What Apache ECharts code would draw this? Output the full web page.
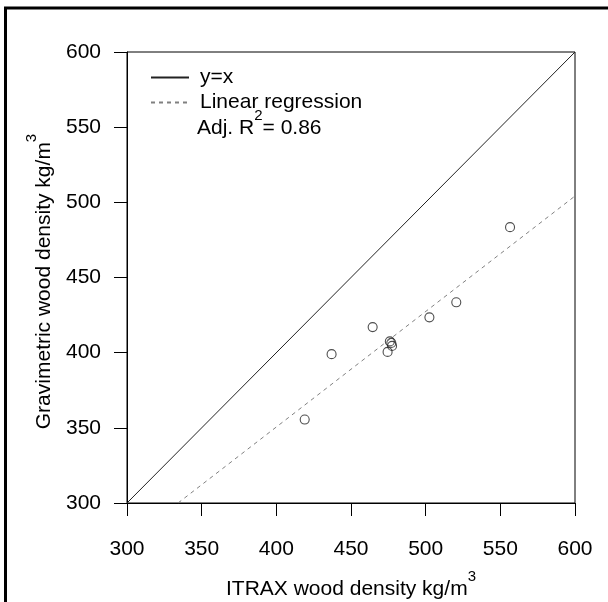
<!DOCTYPE html>
<html>
<head>
<meta charset="utf-8">
<script src="https://cdn.jsdelivr.net/npm/echarts@6/dist/echarts.min.js"></script>
<style>
  html, body { margin: 0; padding: 0; background: #fff; }
  #chart { width: 608px; height: 602px; }
</style>
</head>
<body>
<div id="chart"></div>
<script>
// Axis ticks (kg/m3)
const axisTicks = [300, 350, 400, 450, 500, 550, 600];

// Measured densities: ITRAX (x) vs gravimetric (y)
const itraxDensity = [419, 437, 464.5, 474.5, 476, 477, 477.5, 502.5, 520.5, 556.5];
const gravDensity  = [355.5, 399, 417, 400.5, 407.5, 406.5, 404.5, 423.5, 433.5, 483.5];

// 1:1 reference line end points
const identityX = [300, 600];
const identityY = [300, 600];

// Fitted regression line end points
const regressionX = [334.2, 600];
const regressionY = [300, 504.2];

const adjR2 = '0.86';

const FONT = '"Liberation Sans", Arial, sans-serif';

const pairs = (xs, ys) => xs.map((x, i) => [x, ys[i]]);

// main text sits at the bottom of a tall line, the exponent at its top
const supRich = {
  t: { fontFamily: FONT, fontSize: 21, lineHeight: 21, color: '#000', verticalAlign: 'bottom' },
  s: { fontFamily: FONT, fontSize: 15, lineHeight: 31, color: '#000', verticalAlign: 'top' }
};

const chart = echarts.init(document.getElementById('chart'), null, { renderer: 'canvas' });

chart.setOption({
  animation: false,
  backgroundColor: '#fff',
  grid: {
    left: 127, top: 52, width: 448, height: 451,
    containLabel: false, outerBoundsMode: 'none',
    show: true, borderColor: '#000', borderWidth: 1, backgroundColor: 'transparent'
  },
  xAxis: {
    type: 'value', min: axisTicks[0], max: axisTicks[axisTicks.length - 1], interval: 50,
    name: '{t|ITRAX wood density kg/m}{s|3}',
    nameLocation: 'middle', nameGap: 66,
    nameTextStyle: { rich: supRich },
    axisLine: { show: true, lineStyle: { color: '#000', width: 1 } },
    axisTick: { show: true, inside: false, length: 13, lineStyle: { color: '#000', width: 1 } },
    axisLabel: { color: '#000', fontFamily: FONT, fontSize: 21, margin: 36 },
    splitLine: { show: false }
  },
  yAxis: {
    type: 'value', min: axisTicks[0], max: axisTicks[axisTicks.length - 1], interval: 50,
    name: '{t|Gravimetric wood density kg/m}{s|3}',
    nameLocation: 'middle', nameGap: 65,
    nameTextStyle: { rich: supRich, padding: [0, 8, 0, 0] },
    axisLine: { show: true, lineStyle: { color: '#000', width: 1 } },
    axisTick: { show: true, inside: false, length: 13, lineStyle: { color: '#000', width: 1 } },
    axisLabel: { color: '#000', fontFamily: FONT, fontSize: 21, margin: 26 },
    splitLine: { show: false }
  },
  legend: {
    data: ['y=x', 'Linear regression'],
    orient: 'vertical',
    left: 145, top: 62,
    itemWidth: 38, itemHeight: 14, itemGap: 4,
    itemStyle: { opacity: 0 },
    textStyle: { color: '#000', fontFamily: FONT, fontSize: 21, padding: [0, 0, 0, 6] },
    selectedMode: false
  },
  graphic: [
    {
      type: 'rect', silent: true, z: 100,
      shape: { x: 5.5, y: 8, width: 800, height: 800 },
      style: { fill: 'none', stroke: '#000', lineWidth: 3 }
    },
    {
      type: 'text', left: 197, top: 108, z: 100,
      style: {
        text: '{t|Adj. R}{s|2}{t|= ' + adjR2 + '}',
        rich: supRich
      }
    }
  ],
  series: [
    {
      name: 'y=x', type: 'line', data: pairs(identityX, identityY),
      symbol: 'none', itemStyle: { color: '#222' },
      lineStyle: { color: '#222', width: 1, type: 'solid' }
    },
    {
      name: 'Linear regression', type: 'line', data: pairs(regressionX, regressionY),
      symbol: 'none', itemStyle: { color: '#808080' },
      lineStyle: { color: '#808080', width: 1, type: [4, 4] }
    },
    {
      name: 'Samples', type: 'scatter', data: pairs(itraxDensity, gravDensity),
      symbol: 'circle', symbolSize: 9,
      itemStyle: { color: 'rgba(0,0,0,0)', borderColor: '#222', borderWidth: 1.1 }
    }
  ]
});
</script>
</body>
</html>
